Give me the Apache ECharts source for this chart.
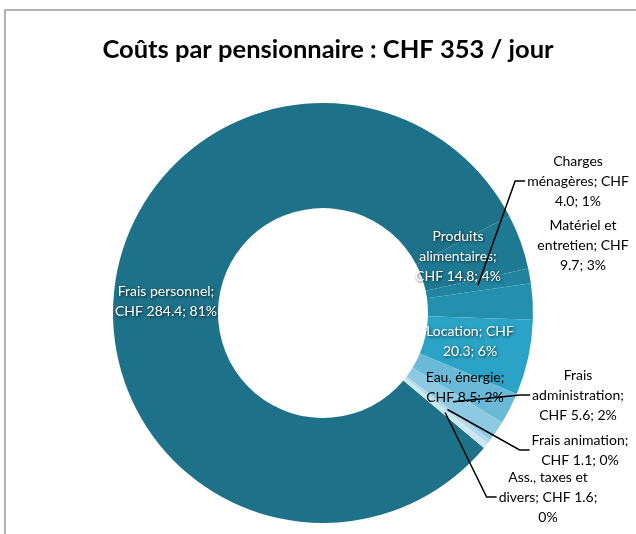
<!DOCTYPE html>
<html>
<head>
<meta charset="utf-8">
<script src="https://cdn.jsdelivr.net/npm/echarts@6/dist/echarts.min.js"></script>
<style>
  html, body { margin: 0; padding: 0; background: #fff; }
  #chart { width: 636px; height: 534px; }
</style>
</head>
<body>
<div id="chart"></div>
<script>
const categories = ['Frais personnel', 'Produits alimentaires', 'Charges ménagères', 'Matériel et entretien',
  'Location', 'Eau, énergie', 'Frais administration', 'Frais animation', 'Ass., taxes et divers'];
const values = [284.4, 14.8, 4.0, 9.7, 20.3, 8.5, 5.6, 1.1, 1.6];

// style / layout
const colors = ['#1d7289', '#1e7a93', '#20849f', '#2390ae', '#2aa3c6', '#6ab9d6', '#8dc9e0', '#b0d9ea', '#cce7f1'];
const wordsPerLine = [[2, 3], [1, 1, 3], [1, 2, 2], [2, 2, 2], [2, 2], [2, 3], [1, 1, 3], [2, 3], [3, 3, 1]];
const inside = [true, true, false, false, true, true, false, false, false];
const darkText = [false, false, true, true, false, true, true, true, true];
const withLeader = [false, false, true, false, false, false, true, true, true];
const labelXY = [[166, 301], [458, 256], [578, 181], [583, 245], [470, 341], [465, 387], [578, 395], [580, 450], [548, 497]];

const pieCenter = [323, 313];
const pieRadius = [105, 210];
const firstSliceAngle = 130; // clockwise from 12 o'clock, like Excel

let total = values.reduce(function (a, b) { return a + b; }, 0);

let myChart = echarts.init(document.getElementById('chart'), null, { renderer: 'canvas' });

/* label text as Excel wraps it: name; CHF value; percent */
function labelText(i) {
  let pct = Math.round(values[i] / total * 100);
  let words = (categories[i] + '; CHF ' + values[i].toFixed(1) + '; ' + pct + '%').split(' ');
  let lines = [];
  let k = 0;
  wordsPerLine[i].forEach(function (n) {
    lines.push(words.slice(k, k + n).join(' '));
    k += n;
  });
  return lines.join('\n');
}

/* point in the middle of the ring at the slice's mid angle */
function sliceMidPoint(i) {
  let cum = 0;
  for (let j = 0; j < i; j++) cum += values[j];
  let a = (firstSliceAngle + 360 * (cum + values[i] / 2) / total) * Math.PI / 180;
  let r = (pieRadius[0] + pieRadius[1]) / 2;
  return [pieCenter[0] + r * Math.sin(a), pieCenter[1] - r * Math.cos(a)];
}

let dataset = [];
for (let i = 0; i < values.length; i++) {
  let item = { name: categories[i], value: values[i], itemStyle: { color: colors[i] } };
  item.label = inside[i] ? {
    position: 'inside',
    color: darkText[i] ? '#000' : '#fff',
    textShadowColor: darkText[i] ? 'transparent' : 'rgba(0,0,0,0.75)',
    textShadowBlur: 3,
    textShadowOffsetX: 1,
    textShadowOffsetY: 1
  } : { position: 'outside', color: '#000' };
  dataset.push(item);
}

/* leader lines collected during label layout, drawn on top afterwards */
let leaders = [];

option = {
  animation: false,
  backgroundColor: '#fff',
  title: {
    text: 'Coûts par pensionnaire : CHF 353 / jour',
    left: 323,
    textAlign: 'center',
    top: 32,
    textStyle: { fontFamily: 'Lato', fontWeight: 'bold', fontSize: 25.5, color: '#000' }
  },
  graphic: [{
    type: 'rect',
    shape: { x: 5, y: 10, width: 700, height: 600 },
    style: { fill: 'none', stroke: '#9a9a9a', lineWidth: 1.5 },
    z: -1
  }],
  series: [{
    type: 'pie',
    center: pieCenter,
    radius: pieRadius,
    startAngle: 90 - firstSliceAngle,
    clockwise: true,
    avoidLabelOverlap: false,
    label: {
      fontFamily: 'Lato',
      fontSize: 14,
      lineHeight: 20,
      align: 'center',
      formatter: function (p) { return labelText(p.dataIndex); }
    },
    labelLine: { show: false },
    labelLayout: function (p) {
      let i = p.dataIndex;
      let xy = labelXY[i];
      if (withLeader[i]) {
        let left = xy[0] - p.labelRect.width / 2 - 2;
        leaders[i] = [[left, xy[1]], [left - 10, xy[1]], sliceMidPoint(i)];
      }
      return { x: xy[0], y: xy[1], align: 'center', verticalAlign: 'middle' };
    },
    emphasis: { disabled: true },
    data: dataset
  }]
};

myChart.setOption(option, true);

let lineGraphics = [];
leaders.forEach(function (pts, i) {
  if (!pts) return;
  lineGraphics.push({
    type: 'polyline',
    id: 'leader' + i,
    shape: { points: pts },
    style: { fill: null, stroke: '#000', lineWidth: 1.5 },
    z: 10
  });
});
myChart.setOption({ graphic: lineGraphics });
</script>
</body>
</html>
